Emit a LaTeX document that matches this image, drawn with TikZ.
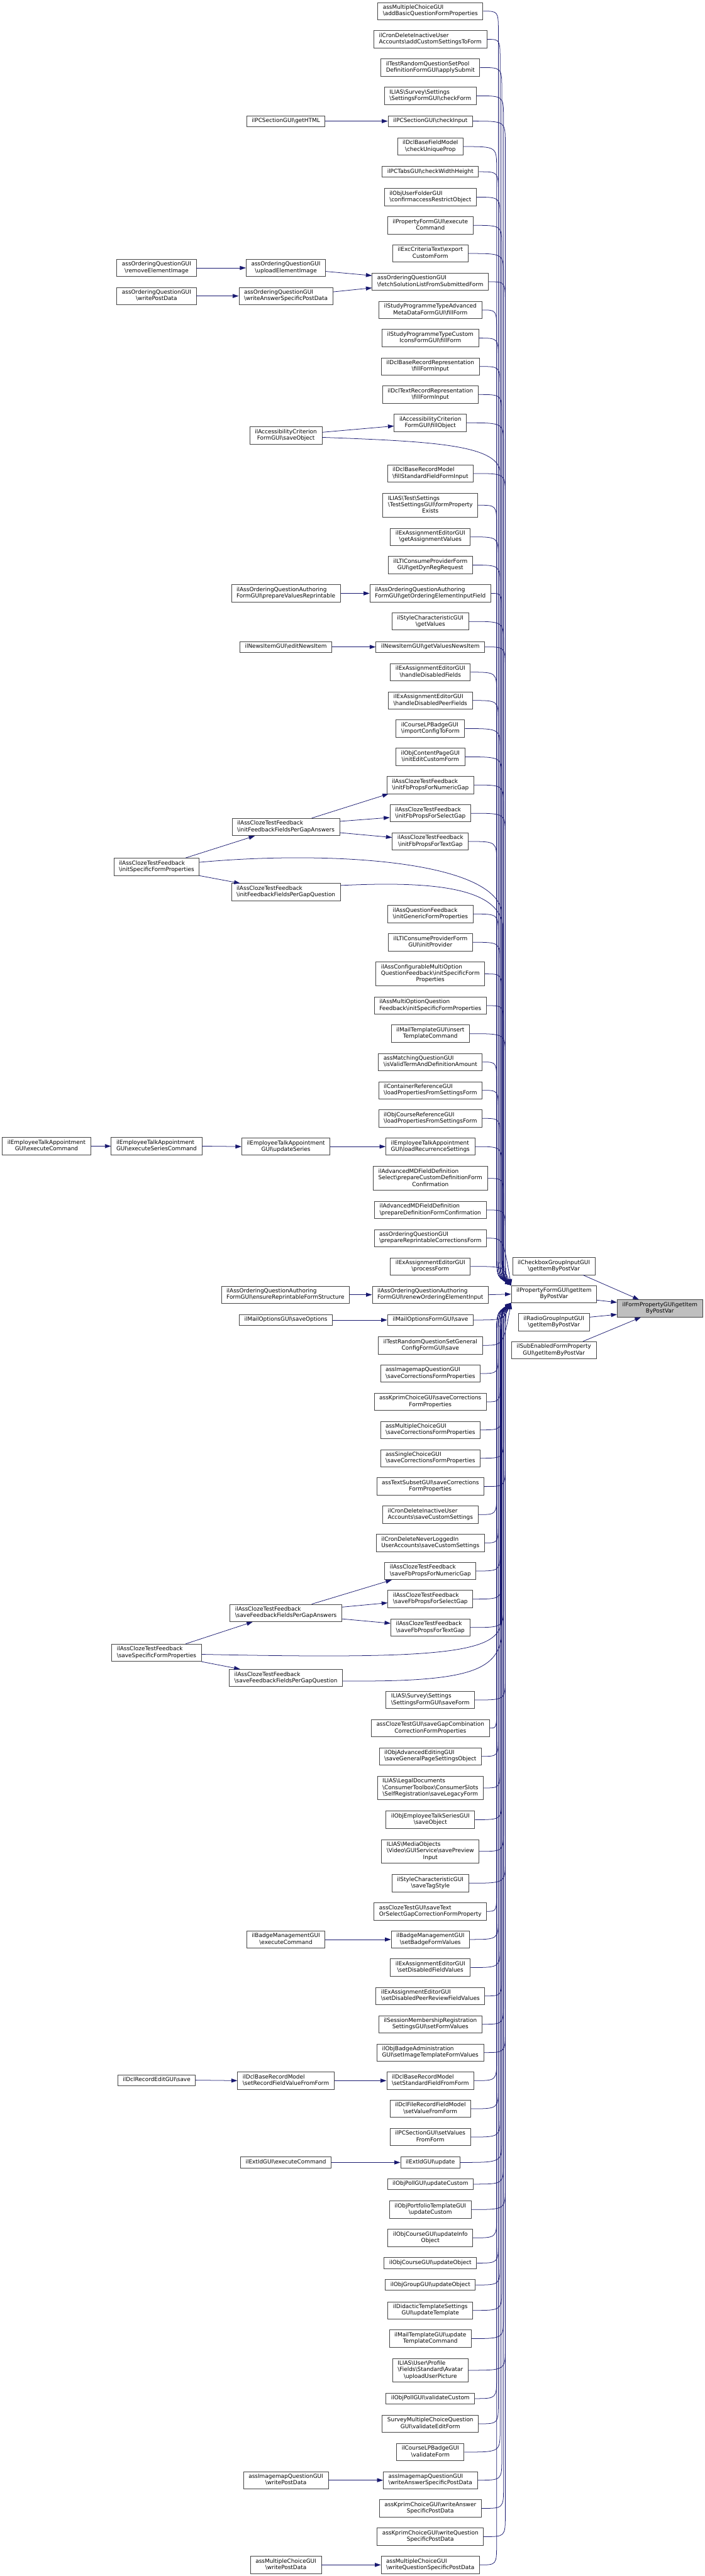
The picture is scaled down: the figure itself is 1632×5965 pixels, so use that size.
\documentclass[tikz,border=0pt]{standalone}
\usepackage{fontspec}
\setmainfont{DejaVu Sans}
\usetikzlibrary{arrows.meta}
\definecolor{edgeblue}{HTML}{191970}
\definecolor{nodegrey}{HTML}{444444}
\definecolor{rootfill}{HTML}{BFBFBF}
\newcommand{\bks}{\textbackslash}
\newcommand{\lblA}[1]{\begin{tabular}{@{}c@{}}#1\end{tabular}}
\newcommand{\lblB}[2]{\begin{tabular}{@{}l@{}}#1\\\multicolumn{1}{@{}c@{}}{#2}\end{tabular}}
\newcommand{\lblC}[3]{\begin{tabular}{@{}l@{}}#1\\#2\\\multicolumn{1}{@{}c@{}}{#3}\end{tabular}}
\tikzset{
  gbox/.style={draw=nodegrey, fill=white, line width=0.6pt, inner xsep=5.9pt, inner ysep=0pt, font=\fontsize{6.5}{7.5}\selectfont},
  boxa/.style={gbox, minimum height=12.5pt},
  boxb/.style={gbox, minimum height=20pt},
  boxc/.style={gbox, minimum height=27.5pt},
  ed/.style={draw=edgeblue, line width=0.55pt, -{Triangle[length=7pt,width=4.6pt]}},
}
\begin{document}
\begin{tikzpicture}[x=0.5pt,y=-0.5pt]
\useasboundingbox (0,0) rectangle (1632,5965);
\fill[white] (0,0) rectangle (1632,5965);

% ---------- main column ----------
\node[boxb] (m1) at (996.5,25.8) {\lblB{assMultipleChoiceGUI}{\bks addBasicQuestionFormProperties}};
\node[boxb] (m2) at (996.5,91.1) {\lblB{ilCronDeleteInactiveUser}{Accounts\bks addCustomSettingsToForm}};
\node[boxb] (m3) at (996.5,156.4) {\lblB{ilTestRandomQuestionSetPool}{DefinitionFormGUI\bks applySubmit}};
\node[boxb] (m4) at (996.5,221.9) {\lblB{ILIAS\bks Survey\bks Settings}{\bks SettingsFormGUI\bks checkForm}};
\node[boxa] (m5) at (996.5,280.5) {\lblA{ilPCSectionGUI\bks checkInput}};
\node[boxb] (m6) at (996.5,339.4) {\lblB{ilDclBaseFieldModel}{\bks checkUniqueProp}};
\node[boxa] (m7) at (996.5,397.7) {\lblA{ilPCTabsGUI\bks checkWidthHeight}};
\node[boxb] (m8) at (996.5,456.5) {\lblB{ilObjUserFolderGUI}{\bks confirmaccessRestrictObject}};
\node[boxb] (m9) at (996.5,521.8) {\lblB{ilPropertyFormGUI\bks execute}{Command}};
\node[boxb] (m10) at (996.5,587) {\lblB{ilExcCriteriaText\bks export}{CustomForm}};
\node[boxb] (m11) at (996.5,652.4) {\lblB{assOrderingQuestionGUI}{\bks fetchSolutionListFromSubmittedForm}};
\node[boxb] (m12) at (996.5,717.8) {\lblB{ilStudyProgrammeTypeAdvanced}{MetaDataFormGUI\bks fillForm}};
\node[boxb] (m13) at (996.5,782.9) {\lblB{ilStudyProgrammeTypeCustom}{IconsFormGUI\bks fillForm}};
\node[boxb] (m14) at (996.5,848.6) {\lblB{ilDclBaseRecordRepresentation}{\bks fillFormInput}};
\node[boxb] (m15) at (996.5,913.6) {\lblB{ilDclTextRecordRepresentation}{\bks fillFormInput}};
\node[boxb] (m16) at (996.5,979.1) {\lblB{ilAccessibilityCriterion}{FormGUI\bks fillObject}};
\node[boxb] (m17) at (996.5,1096.4) {\lblB{ilDclBaseRecordModel}{\bks fillStandardFieldFormInput}};
\node[boxc] (m18) at (996.5,1169.8) {\lblC{ILIAS\bks Test\bks Settings}{\bks TestSettingsGUI\bks formProperty}{Exists}};
\node[boxb] (m19) at (996.5,1243.2) {\lblB{ilExAssignmentEditorGUI}{\bks getAssignmentValues}};
\node[boxb] (m20) at (996.5,1308.5) {\lblB{ilLTIConsumeProviderForm}{GUI\bks getDynRegRequest}};
\node[boxb] (m21) at (996.5,1374) {\lblB{ilAssOrderingQuestionAuthoring}{FormGUI\bks getOrderingElementInputField}};
\node[boxb] (m22) at (996.5,1439) {\lblB{ilStyleCharacteristicGUI}{\bks getValues}};
\node[boxa] (m23) at (996.5,1498) {\lblA{ilNewsItemGUI\bks getValuesNewsItem}};
\node[boxb] (m24) at (996.5,1556.5) {\lblB{ilExAssignmentEditorGUI}{\bks handleDisabledFields}};
\node[boxb] (m25) at (996.5,1622) {\lblB{ilExAssignmentEditorGUI}{\bks handleDisabledPeerFields}};
\node[boxb] (m26) at (996.5,1687.1) {\lblB{ilCourseLPBadgeGUI}{\bks importConfigToForm}};
\node[boxb] (m27) at (996.5,1752.6) {\lblB{ilObjContentPageGUI}{\bks initEditCustomForm}};
\node[boxb] (m28) at (996.5,1817.7) {\lblB{ilAssClozeTestFeedback}{\bks initFbPropsForNumericGap}};
\node[boxb] (m29) at (996.5,1883.2) {\lblB{ilAssClozeTestFeedback}{\bks initFbPropsForSelectGap}};
\node[boxb] (m30) at (996.5,1948.5) {\lblB{ilAssClozeTestFeedback}{\bks initFbPropsForTextGap}};
\node[boxb] (m31) at (996.5,2116.4) {\lblB{ilAssQuestionFeedback}{\bks initGenericFormProperties}};
\node[boxb] (m32) at (996.5,2181.9) {\lblB{ilLTIConsumeProviderForm}{GUI\bks initProvider}};
\node[boxc] (m33) at (996.5,2255.2) {\lblC{ilAssConfigurableMultiOption}{QuestionFeedback\bks initSpecificForm}{Properties}};
\node[boxb] (m34) at (996.5,2328.6) {\lblB{ilAssMultiOptionQuestion}{Feedback\bks initSpecificFormProperties}};
\node[boxb] (m35) at (996.5,2393.6) {\lblB{ilMailTemplateGUI\bks insert}{TemplateCommand}};
\node[boxb] (m36) at (996.5,2459.2) {\lblB{assMatchingQuestionGUI}{\bks isValidTermAndDefinitionAmount}};
\node[boxb] (m37) at (996.5,2524.7) {\lblB{ilContainerReferenceGUI}{\bks loadPropertiesFromSettingsForm}};
\node[boxb] (m38) at (996.5,2589.7) {\lblB{ilObjCourseReferenceGUI}{\bks loadPropertiesFromSettingsForm}};
\node[boxb] (m39) at (996.5,2655) {\lblB{ilEmployeeTalkAppointment}{GUI\bks loadRecurrenceSettings}};
\node[boxc] (m40) at (996.5,2728.7) {\lblC{ilAdvancedMDFieldDefinition}{Select\bks prepareCustomDefinitionForm}{Confirmation}};
\node[boxb] (m41) at (996.5,2801.8) {\lblB{ilAdvancedMDFieldDefinition}{\bks prepareDefinitionFormConfirmation}};
\node[boxb] (m42) at (996.5,2867.1) {\lblB{assOrderingQuestionGUI}{\bks prepareReprintableCorrectionsForm}};
\node[boxb] (m43) at (996.5,2932.5) {\lblB{ilExAssignmentEditorGUI}{\bks processForm}};
\node[boxb] (m44) at (996.5,2998) {\lblB{ilAssOrderingQuestionAuthoring}{FormGUI\bks renewOrderingElementInput}};
\node[boxa] (m45) at (996.5,3056.6) {\lblA{ilMailOptionsFormGUI\bks save}};
\node[boxb] (m46) at (996.5,3115.3) {\lblB{ilTestRandomQuestionSetGeneral}{ConfigFormGUI\bks save}};
\node[boxb] (m47) at (996.5,3180.5) {\lblB{assImagemapQuestionGUI}{\bks saveCorrectionsFormProperties}};
\node[boxb] (m48) at (996.5,3246) {\lblB{assKprimChoiceGUI\bks saveCorrections}{FormProperties}};
\node[boxb] (m49) at (996.5,3311.1) {\lblB{assMultipleChoiceGUI}{\bks saveCorrectionsFormProperties}};
\node[boxb] (m50) at (996.5,3376.6) {\lblB{assSingleChoiceGUI}{\bks saveCorrectionsFormProperties}};
\node[boxb] (m51) at (996.5,3442.1) {\lblB{assTextSubsetGUI\bks saveCorrections}{FormProperties}};
\node[boxb] (m52) at (996.5,3507.2) {\lblB{ilCronDeleteInactiveUser}{Accounts\bks saveCustomSettings}};
\node[boxb] (m53) at (996.5,3572.7) {\lblB{ilCronDeleteNeverLoggedIn}{UserAccounts\bks saveCustomSettings}};
\node[boxb] (m54) at (996.5,3637.8) {\lblB{ilAssClozeTestFeedback}{\bks saveFbPropsForNumericGap}};
\node[boxb] (m55) at (996.5,3702.8) {\lblB{ilAssClozeTestFeedback}{\bks saveFbPropsForSelectGap}};
\node[boxb] (m56) at (996.5,3768.6) {\lblB{ilAssClozeTestFeedback}{\bks saveFbPropsForTextGap}};
\node[boxb] (m57) at (996.5,3936.4) {\lblB{ILIAS\bks Survey\bks Settings}{\bks SettingsFormGUI\bks saveForm}};
\node[boxb] (m58) at (996.5,4001.6) {\lblB{assClozeTestGUI\bks saveGapCombination}{CorrectionFormProperties}};
\node[boxb] (m59) at (996.5,4067) {\lblB{ilObjAdvancedEditingGUI}{\bks saveGeneralPageSettingsObject}};
\node[boxc] (m60) at (996.5,4140.2) {\lblC{ILIAS\bks LegalDocuments}{\bks ConsumerToolbox\bks ConsumerSlots}{\bks SelfRegistration\bks saveLegacyForm}};
\node[boxb] (m61) at (996.5,4213.7) {\lblB{ilObjEmployeeTalkSeriesGUI}{\bks saveObject}};
\node[boxc] (m62) at (996.5,4287) {\lblC{ILIAS\bks MediaObjects}{\bks Video\bks GUIService\bks savePreview}{Input}};
\node[boxb] (m63) at (996.5,4360.6) {\lblB{ilStyleCharacteristicGUI}{\bks saveTagStyle}};
\node[boxb] (m64) at (996.5,4425.9) {\lblB{assClozeTestGUI\bks saveText}{OrSelectGapCorrectionFormProperty}};
\node[boxb] (m65) at (996.5,4491) {\lblB{ilBadgeManagementGUI}{\bks setBadgeFormValues}};
\node[boxb] (m66) at (996.5,4556) {\lblB{ilExAssignmentEditorGUI}{\bks setDisabledFieldValues}};
\node[boxb] (m67) at (996.5,4621.8) {\lblB{ilExAssignmentEditorGUI}{\bks setDisabledPeerReviewFieldValues}};
\node[boxb] (m68) at (996.5,4687.3) {\lblB{ilSessionMembershipRegistration}{SettingsGUI\bks setFormValues}};
\node[boxb] (m69) at (996.5,4752.8) {\lblB{ilObjBadgeAdministration}{GUI\bks setImageTemplateFormValues}};
\node[boxb] (m70) at (996.5,4817.9) {\lblB{ilDclBaseRecordModel}{\bks setStandardFieldFromForm}};
\node[boxb] (m71) at (996.5,4883) {\lblB{ilDclFileRecordFieldModel}{\bks setValueFromForm}};
\node[boxb] (m72) at (996.5,4948.5) {\lblB{ilPCSectionGUI\bks setValues}{FromForm}};
\node[boxa] (m73) at (996.5,5007.3) {\lblA{ilExtIdGUI\bks update}};
\node[boxa] (m74) at (996.5,5057.5) {\lblA{ilObjPollGUI\bks updateCustom}};
\node[boxb] (m75) at (996.5,5116.4) {\lblB{ilObjPortfolioTemplateGUI}{\bks updateCustom}};
\node[boxb] (m76) at (996.5,5181.9) {\lblB{ilObjCourseGUI\bks updateInfo}{Object}};
\node[boxa] (m77) at (996.5,5240.3) {\lblA{ilObjCourseGUI\bks updateObject}};
\node[boxa] (m78) at (996.5,5291) {\lblA{ilObjGroupGUI\bks updateObject}};
\node[boxb] (m79) at (996.5,5349.9) {\lblB{ilDidacticTemplateSettings}{GUI\bks updateTemplate}};
\node[boxb] (m80) at (996.5,5415.2) {\lblB{ilMailTemplateGUI\bks update}{TemplateCommand}};
\node[boxc] (m81) at (996.5,5488.6) {\lblC{ILIAS\bks User\bks Profile}{\bks Fields\bks Standard\bks Avatar}{\bks uploadUserPicture}};
\node[boxa] (m82) at (996.5,5554.1) {\lblA{ilObjPollGUI\bks validateCustom}};
\node[boxb] (m83) at (996.5,5612.5) {\lblB{SurveyMultipleChoiceQuestion}{GUI\bks validateEditForm}};
\node[boxb] (m84) at (996.5,5678) {\lblB{ilCourseLPBadgeGUI}{\bks validateForm}};
\node[boxb] (m85) at (996.5,5743.1) {\lblB{assImagemapQuestionGUI}{\bks writeAnswerSpecificPostData}};
\node[boxb] (m86) at (996.5,5808.4) {\lblB{assKprimChoiceGUI\bks writeAnswer}{SpecificPostData}};
\node[boxb] (m87) at (996.5,5873.9) {\lblB{assKprimChoiceGUI\bks writeQuestion}{SpecificPostData}};
\node[boxb] (m88) at (996.5,5939.2) {\lblB{assMultipleChoiceGUI}{\bks writeQuestionSpecificPostData}};

% ---------- column 3 ----------
\node[boxa] (cHtml) at (662,280.5) {\lblA{ilPCSectionGUI\bks getHTML}};
\node[boxb] (cUpl) at (662,620.4) {\lblB{assOrderingQuestionGUI}{\bks uploadElementImage}};
\node[boxb] (cWasp) at (662,685.4) {\lblB{assOrderingQuestionGUI}{\bks writeAnswerSpecificPostData}};
\node[boxb] (cAccS) at (662,1008.3) {\lblB{ilAccessibilityCriterion}{FormGUI\bks saveObject}};
\node[boxb] (cPrep) at (662,1374) {\lblB{ilAssOrderingQuestionAuthoring}{FormGUI\bks prepareValuesReprintable}};
\node[boxa] (cNews) at (662,1498) {\lblA{ilNewsItemGUI\bks editNewsItem}};
\node[boxb] (cIAns) at (662,1915) {\lblB{ilAssClozeTestFeedback}{\bks initFeedbackFieldsPerGapAnswers}};
\node[boxb] (cIQ) at (662,2065.9) {\lblB{ilAssClozeTestFeedback}{\bks initFeedbackFieldsPerGapQuestion}};
\node[boxb] (cEmpU) at (662,2655) {\lblB{ilEmployeeTalkAppointment}{GUI\bks updateSeries}};
\node[boxb] (cEns) at (661,2998) {\lblB{ilAssOrderingQuestionAuthoring}{FormGUI\bks ensureReprintableFormStructure}};
\node[boxa] (cMailO) at (662,3056.6) {\lblA{ilMailOptionsGUI\bks saveOptions}};
\node[boxb] (cSAns) at (662,3735) {\lblB{ilAssClozeTestFeedback}{\bks saveFeedbackFieldsPerGapAnswers}};
\node[boxb] (cSQ) at (662,3885.6) {\lblB{ilAssClozeTestFeedback}{\bks saveFeedbackFieldsPerGapQuestion}};
\node[boxb] (cBadge) at (662,4491) {\lblB{ilBadgeManagementGUI}{\bks executeCommand}};
\node[boxb] (cDclR) at (662,4817.9) {\lblB{ilDclBaseRecordModel}{\bks setRecordFieldValueFromForm}};
\node[boxa] (cExt) at (662,5007.3) {\lblA{ilExtIdGUI\bks executeCommand}};
\node[boxb] (cImgW) at (662,5743.1) {\lblB{assImagemapQuestionGUI}{\bks writePostData}};
\node[boxb] (cMcW) at (662,5939.2) {\lblB{assMultipleChoiceGUI}{\bks writePostData}};

% ---------- column 2 ----------
\node[boxb] (bRem) at (362.5,620.4) {\lblB{assOrderingQuestionGUI}{\bks removeElementImage}};
\node[boxb] (bWpd) at (362.5,685.4) {\lblB{assOrderingQuestionGUI}{\bks writePostData}};
\node[boxb] (bISpec) at (362.5,2007.1) {\lblB{ilAssClozeTestFeedback}{\bks initSpecificFormProperties}};
\node[boxb] (bEmpS) at (362.5,2654) {\lblB{ilEmployeeTalkAppointment}{GUI\bks executeSeriesCommand}};
\node[boxb] (bSSpec) at (362.5,3827.1) {\lblB{ilAssClozeTestFeedback}{\bks saveSpecificFormProperties}};
\node[boxa] (bDcl) at (362.7,4816.8) {\lblA{ilDclRecordEditGUI\bks save}};

% ---------- column 1 ----------
\node[boxb] (aEmp) at (107.7,2654) {\lblB{ilEmployeeTalkAppointment}{GUI\bks executeCommand}};

% ---------- right columns ----------
\node[boxb] (pf) at (1282.8,2996.6) {\lblB{ilPropertyFormGUI\bks getItem}{ByPostVar}};
\node[boxb] (cb) at (1282.5,2931.8) {\lblB{ilCheckboxGroupInputGUI}{\bks getItemByPostVar}};
\node[boxb] (rg) at (1282.5,3061.6) {\lblB{ilRadioGroupInputGUI}{\bks getItemByPostVar}};
\node[boxb] (se) at (1282.6,3126.6) {\lblB{ilSubEnabledFormProperty}{GUI\bks getItemByPostVar}};
\node[boxb, fill=rootfill] (root) at (1528.1,3029.8) {\lblB{ilFormPropertyGUI\bks getItem}{ByPostVar}};

% ---------- edges into the root ----------
\draw[ed] (cb.-17) -- (root.157);
\draw[ed] (pf.-8) -- (root.172);
\draw[ed] (rg.8) -- (root.188);
\draw[ed] (se.17) -- (root.205);

% ---------- bundle: callers above ----------
\foreach \n/\y [count=\i] in {m1/25.8, m2/91.1, m3/156.4, m4/221.9, m5/280.5, m6/339.4, m7/397.7, m8/456.5, m9/521.8, m10/587, m11/652.4, m12/717.8, m13/782.9, m14/848.6, m15/913.6, m16/979.1, m17/1096.4, m18/1169.8, m19/1243.2, m20/1308.5, m21/1374, m22/1439, m23/1498, m24/1556.5, m25/1622, m26/1687.1, m27/1752.6, m28/1817.7, m29/1883.2, m30/1948.5, m31/2116.4, m32/2181.9, m33/2255.2, m34/2328.6, m35/2393.6, m36/2459.2, m37/2524.7, m38/2589.7, m39/2655, m40/2728.7, m41/2801.8}{
  \pgfmathsetmacro\xv{1150+4*mod(\i,6)}
  \draw[ed] (\n.east) .. controls (\xv,\y) .. (\xv,\y+50) -- (\xv,2880) .. controls (\xv,2955) .. (pf.north west);
}
\foreach \n/\y in {m42/2867.1, m43/2932.5}{
  \draw[ed] (\n.east) .. controls (1165,\y) .. (pf.north west);
}
\draw[ed] (m44.east) -- (pf.west);
\foreach \n/\y in {m45/3056.6, m46/3115.3}{
  \draw[ed] (\n.east) .. controls (1165,\y) .. (pf.south west);
}
% ---------- bundle: callers below ----------
\foreach \n/\y [count=\i] in {m47/3180.5, m48/3246, m49/3311.1, m50/3376.6, m51/3442.1, m52/3507.2, m53/3572.7, m54/3637.8, m55/3702.8, m56/3768.6, m57/3936.4, m58/4001.6, m59/4067, m60/4140.2, m61/4213.7, m62/4287, m63/4360.6, m64/4425.9, m65/4491, m66/4556, m67/4621.8, m68/4687.3, m69/4752.8, m70/4817.9, m71/4883, m72/4948.5, m73/5007.3, m74/5057.5, m75/5116.4, m76/5181.9, m77/5240.3, m78/5291, m79/5349.9, m80/5415.2, m81/5488.6, m82/5554.1, m83/5612.5, m84/5678, m85/5743.1, m86/5808.4, m87/5873.9, m88/5939.2}{
  \pgfmathsetmacro\xv{1150+4*mod(\i,6)}
  \draw[ed] (\n.east) .. controls (\xv,\y) .. (\xv,\y-50) -- (\xv,3115) .. controls (\xv,3040) .. (pf.south west);
}

% ---------- long edges from left columns ----------
\draw[ed] (cAccS.-3) .. controls (1000,1022) and (1148,1030) .. (1158,1090) -- (1158,2880) .. controls (1158,2955) .. (pf.north west);
\draw[ed] (bISpec.6) .. controls (750,1970) and (1140,1990) .. (1162,2110) -- (1162,2880) .. controls (1162,2955) .. (pf.north west);
\draw[ed] (cIQ.7) .. controls (1000,2040) and (1150,2055) .. (1164,2140) -- (1164,2880) .. controls (1164,2955) .. (pf.north west);
\draw[ed] (bSSpec.-2) .. controls (1000,3842) and (1150,3830) .. (1160,3760) -- (1160,3115) .. controls (1160,3040) .. (pf.south west);
\draw[ed] (cSQ.-3) .. controls (1080,3895) and (1150,3870) .. (1162,3790) -- (1162,3115) .. controls (1162,3040) .. (pf.south west);

% ---------- short edges ----------
\draw[ed] (cHtml.east) -- (m5.west);
\draw[ed] (bRem.east) -- (cUpl.west);
\draw[ed] (bWpd.east) -- (cWasp.west);
\draw[ed] (cUpl.-5) -- (m11.174);
\draw[ed] (cWasp.5) -- (m11.186);
\draw[ed] (cAccS.5) -- (m16.185);
\draw[ed] (cPrep.east) -- (m21.west);
\draw[ed] (cNews.east) -- (m23.west);
\draw[ed] (bISpec.17) -- (cIAns.196);
\draw[ed] (bISpec.south east) -- (cIQ.169);
\draw[ed] (cIAns.19) -- (m28.192);
\draw[ed] (cIAns.6) -- (m29.186);
\draw[ed] (cIAns.-6) -- (m30.174);
\draw[ed] (aEmp.east) -- (bEmpS.west);
\draw[ed] (bEmpS.east) -- (cEmpU.west);
\draw[ed] (cEmpU.east) -- (m39.west);
\draw[ed] (cEns.east) -- (m44.west);
\draw[ed] (cMailO.east) -- (m45.west);
\draw[ed] (bSSpec.17) -- (cSAns.195);
\draw[ed] (bSSpec.south east) -- (cSQ.169);
\draw[ed] (cSAns.19) -- (m54.193);
\draw[ed] (cSAns.6) -- (m55.185);
\draw[ed] (cSAns.-6) -- (m56.174);
\draw[ed] (cBadge.east) -- (m65.west);
\draw[ed] (bDcl.east) -- (cDclR.west);
\draw[ed] (cDclR.east) -- (m70.west);
\draw[ed] (cExt.east) -- (m73.west);
\draw[ed] (cImgW.east) -- (m85.west);
\draw[ed] (cMcW.east) -- (m88.west);
\end{tikzpicture}
\end{document}
